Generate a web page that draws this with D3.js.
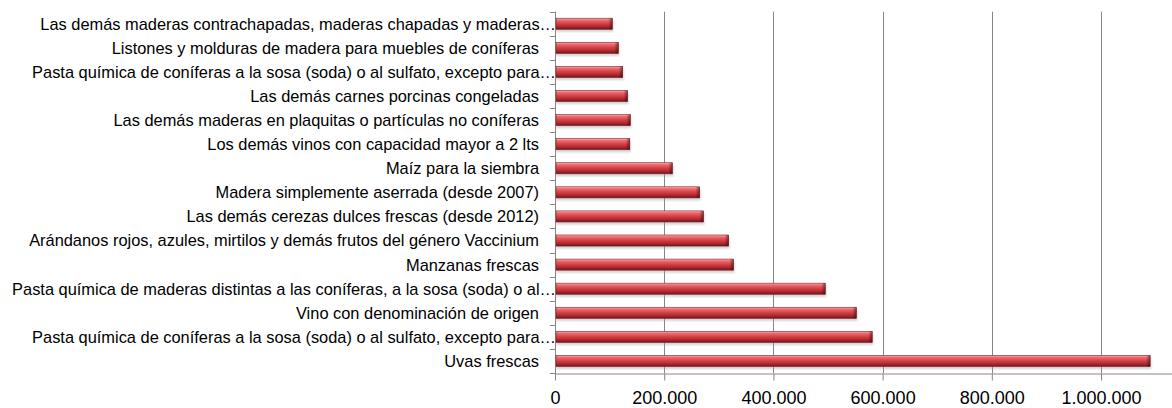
<!DOCTYPE html>
<html>
<head>
<meta charset="utf-8">
<script src="https://cdn.jsdelivr.net/npm/d3@7"></script>
<style>
  body { margin: 0; background: #fff; }
  svg { display: block; }
  .cat { font-family: "Liberation Sans", Arial, sans-serif; font-size: 16.4px; fill: #000; white-space: pre; }
  .num { font-family: "Liberation Sans", Arial, sans-serif; font-size: 18px; fill: #000; }
</style>
</head>
<body>
<svg width="1172" height="408"></svg>
<script>
var width = 1172,
    height = 408;

// productos, de arriba hacia abajo
var categories = [
  "Las demás maderas contrachapadas, maderas chapadas y maderas…",
  "Listones y molduras de madera para muebles de coníferas",
  "Pasta química de coníferas a la sosa (soda) o al sulfato, excepto para…",
  "Las demás carnes porcinas congeladas",
  "Las demás maderas en plaquitas o partículas no coníferas",
  "Los demás vinos con capacidad mayor a 2 lts",
  "Maíz para la siembra",
  "Madera simplemente aserrada (desde 2007)",
  "Las demás cerezas dulces frescas (desde 2012)",
  "Arándanos rojos, azules, mirtilos y demás frutos del género Vaccinium",
  "Manzanas frescas",
  "Pasta química de maderas distintas a las coníferas, a la sosa (soda) o al…",
  "Vino con denominación de origen",
  "Pasta química de coníferas a la sosa (soda) o al sulfato, excepto para…",
  "Uvas frescas"
];

var values = [105000, 116000, 124000, 133000, 138000, 137000, 215000, 265000,
              272000, 318000, 327000, 495000, 552000, 581000, 1090000];

var tickValues = [0, 200000, 400000, 600000, 800000, 1000000];

var plotLeft = 555, plotTop = 11.7, plotBottom = 373;

var es = d3.formatLocale({decimal: ",", thousands: ".", grouping: [3], currency: ["", ""]});
var fmt = es.format(",d");

var x = d3.scaleLinear()
    .domain([0, 1130000])
    .range([plotLeft, width]);

// two categories share a name, so the band scale works on the row index
var y = d3.scaleBand()
    .domain(d3.range(categories.length))
    .range([plotTop, plotBottom])
    .paddingInner(0.54)
    .paddingOuter(0.27);

var svg = d3.select("svg");
var defs = svg.append("defs");

var grad = defs.append("linearGradient")
    .attr("id", "barGrad")
    .attr("x1", 0).attr("y1", 0).attr("x2", 0).attr("y2", 1);
grad.append("stop").attr("offset", "0%").attr("stop-color", "#f7b5b7");
grad.append("stop").attr("offset", "18%").attr("stop-color", "#ee6a6f");
grad.append("stop").attr("offset", "45%").attr("stop-color", "#d9444a");
grad.append("stop").attr("offset", "75%").attr("stop-color", "#b0292f");
grad.append("stop").attr("offset", "100%").attr("stop-color", "#6a181b");

var endGrad = defs.append("linearGradient")
    .attr("id", "endGrad")
    .attr("x1", 0).attr("y1", 0).attr("x2", 1).attr("y2", 0);
endGrad.append("stop").attr("offset", "0%").attr("stop-color", "#000").attr("stop-opacity", 0);
endGrad.append("stop").attr("offset", "100%").attr("stop-color", "#3a0a0c").attr("stop-opacity", 0.55);

defs.append("filter").attr("id", "blur")
  .append("feGaussianBlur").attr("stdDeviation", 1.3);

//gridlines
svg.append("g")
  .selectAll("line")
  .data(tickValues.slice(1))
  .enter().append("line")
  .attr("x1", function(d) { return Math.round(x(d)) + 0.5; })
  .attr("x2", function(d) { return Math.round(x(d)) + 0.5; })
  .attr("y1", plotTop)
  .attr("y2", plotBottom)
  .attr("stroke", "#868686")
  .attr("stroke-width", 1);

//x axis
var xAxis = d3.axisBottom(x)
    .tickValues(tickValues)
    .tickSize(7)
    .tickSizeOuter(0)
    .tickPadding(11)
    .tickFormat(fmt);

var gx = svg.append("g")
    .attr("transform", "translate(0," + (Math.round(plotBottom) + 0.5) + ")")
    .call(xAxis);
gx.select(".domain").attr("stroke", "#868686");
gx.selectAll(".tick line").attr("stroke", "#868686");
gx.selectAll(".tick text").attr("class", "num");
gx.attr("font-family", null).attr("font-size", null);

//y axis line and boundary ticks
var bounds = d3.range(categories.length + 1).map(function(i) { return plotTop + i * y.step(); });
svg.append("line")
  .attr("x1", plotLeft + 0.5).attr("x2", plotLeft + 0.5)
  .attr("y1", plotTop).attr("y2", plotBottom + 7)
  .attr("stroke", "#868686");
svg.append("g")
  .selectAll("line")
  .data(bounds)
  .enter().append("line")
  .attr("x1", plotLeft - 5).attr("x2", plotLeft)
  .attr("y1", function(d) { return Math.round(d) + 0.5; })
  .attr("y2", function(d) { return Math.round(d) + 0.5; })
  .attr("stroke", "#868686");

//bars
var bars = svg.append("g")
  .selectAll("g")
  .data(values)
  .enter().append("g");

bars.append("rect")
  .attr("x", x(0) + 1)
  .attr("y", function(d, i) { return y(i) + 2.5; })
  .attr("width", function(d) { return x(d) - x(0); })
  .attr("height", y.bandwidth())
  .attr("fill", "#999")
  .attr("opacity", 0.45)
  .attr("filter", "url(#blur)");

bars.append("rect")
  .attr("x", x(0) + 1)
  .attr("y", function(d, i) { return y(i); })
  .attr("width", function(d) { return x(d) - x(0) - 1; })
  .attr("height", y.bandwidth())
  .attr("fill", "url(#barGrad)")
  .attr("stroke", "#7d1f23")
  .attr("stroke-width", 0.6);

bars.append("rect")
  .attr("x", function(d) { return x(d) - 4; })
  .attr("y", function(d, i) { return y(i); })
  .attr("width", 4)
  .attr("height", y.bandwidth())
  .attr("fill", "url(#endGrad)");

//category labels
svg.append("g")
  .selectAll("text")
  .data(categories)
  .enter().append("text")
  .attr("class", "cat")
  .attr("x", function(d) { return d.slice(-1) == "…" ? plotLeft + 1 : 539; })
  .attr("y", function(d, i) { return y(i) + y.bandwidth() / 2; })
  .attr("dy", "0.36em")
  .attr("text-anchor", "end")
  .text(function(d) { return d; });
</script>
</body>
</html>
